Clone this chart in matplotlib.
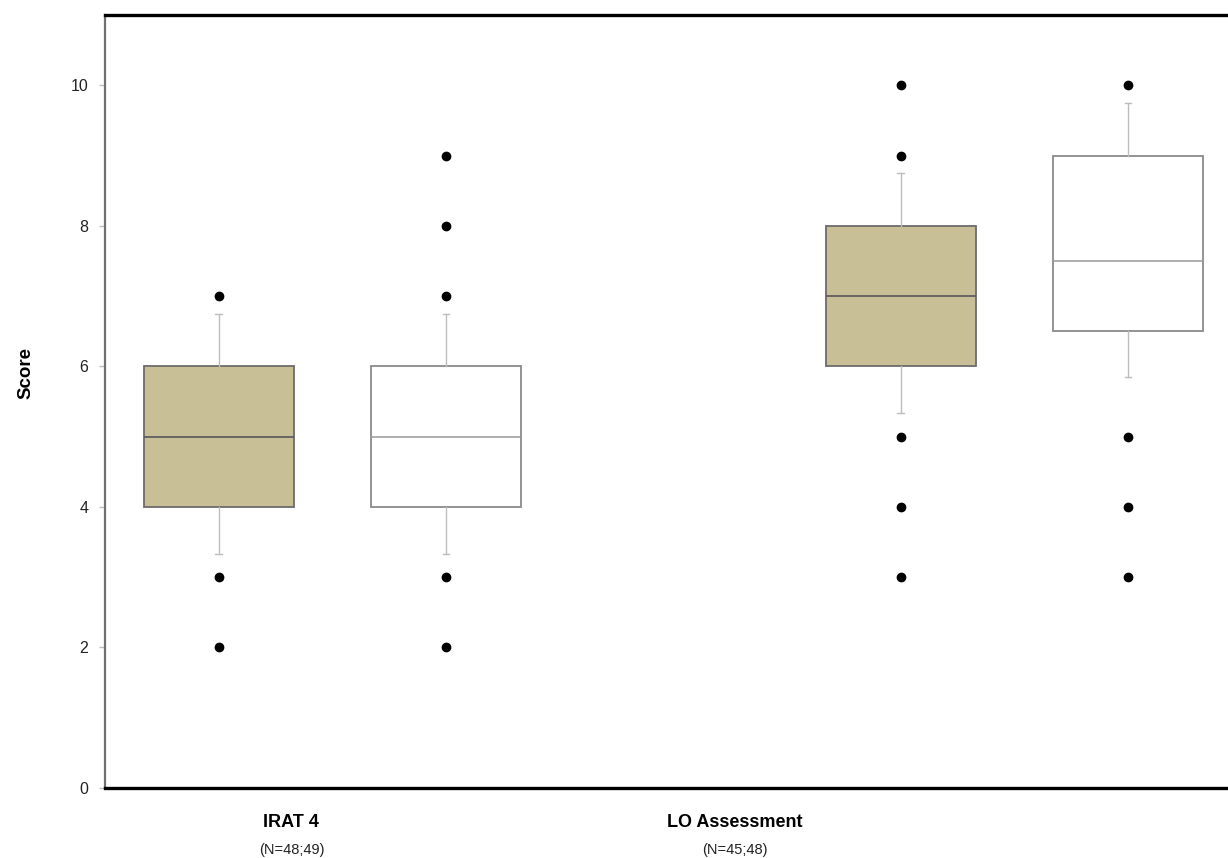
import matplotlib
matplotlib.use("Agg")
import matplotlib.pyplot as plt

plt.rcParams['font.family'] = ['Liberation Sans', 'DejaVu Sans']

# box statistics (tan = first group, white = second)
positions_tan = [1, 4]
positions_white = [2, 5]
q1_tan = [4, 6]
med_tan = [5, 7]
q3_tan = [6, 8]
lo_tan = [3.33, 5.33]
hi_tan = [6.75, 8.75]
fliers_tan = [[7, 3, 2], [10, 9, 5, 4, 3]]

q1_white = [4, 6.5]
med_white = [5, 7.5]
q3_white = [6, 9]
lo_white = [3.33, 5.85]
hi_white = [6.75, 9.75]
fliers_white = [[9, 8, 7, 3, 2], [10, 5, 4, 3]]

categories = ["IRAT 4", "LO Assessment"]
counts = ["(N=48;49)", "(N=45;48)"]
label_x = [1.32, 3.27]
yticks = [0, 2, 4, 6, 8, 10]


def make_stats(q1, med, q3, lo, hi, fl):
    return [dict(q1=a, med=b, q3=c, whislo=d, whishi=e, fliers=f)
            for a, b, c, d, e, f in zip(q1, med, q3, lo, hi, fl)]


fig = plt.figure(figsize=(12.28, 8.58), dpi=100)
ax = fig.add_axes([105 / 1228, 70 / 858, 1 - 105 / 1228, (788 - 15) / 858])

flier = dict(marker='o', markerfacecolor='black', markeredgecolor='black',
             markersize=6, linestyle='none')
whisk = dict(color='#bdbdbd', linewidth=1)

ax.bxp(make_stats(q1_tan, med_tan, q3_tan, lo_tan, hi_tan, fliers_tan),
       positions=positions_tan, widths=0.66, patch_artist=True,
       boxprops=dict(facecolor='#c8bf97', edgecolor='#6b6b6b', linewidth=1.3),
       medianprops=dict(color='#5e5e5e', linewidth=1.3),
       whiskerprops=whisk, capprops=whisk, capwidths=0.03,
       flierprops=flier)
ax.bxp(make_stats(q1_white, med_white, q3_white, lo_white, hi_white, fliers_white),
       positions=positions_white, widths=0.66, patch_artist=True,
       boxprops=dict(facecolor='white', edgecolor='#8a8a8a', linewidth=1.3),
       medianprops=dict(color='#9a9a9a', linewidth=1.1),
       whiskerprops=whisk, capprops=whisk, capwidths=0.03,
       flierprops=flier)

ax.set_xlim(0.5, 5.44)
ax.set_ylim(0, 11)
ax.set_yticks(yticks)
ax.set_xticks([])
ax.tick_params(axis='y', length=4, width=1, color='#bdbdbd',
               labelsize=11.5, labelcolor='#222222', pad=8)

ax.spines['right'].set_visible(False)
ax.spines['top'].set_color('black')
ax.spines['top'].set_linewidth(2.4)
ax.spines['bottom'].set_color('black')
ax.spines['bottom'].set_linewidth(2.4)
ax.spines['left'].set_color('#707070')
ax.spines['left'].set_linewidth(1.6)

ax.set_ylabel("Score", fontsize=13.5, fontweight='bold')
ax.yaxis.set_label_coords(-0.063, 0.537)

for x, cat, n in zip(label_x, categories, counts):
    ax.text(x, -0.49, cat, ha='center', va='center', fontsize=13,
            fontweight='bold', transform=ax.transData, clip_on=False)
    ax.text(x, -0.88, n, ha='center', va='center', fontsize=10.5,
            color='#222222', transform=ax.transData, clip_on=False)

fig.savefig("out.png", dpi=100)
